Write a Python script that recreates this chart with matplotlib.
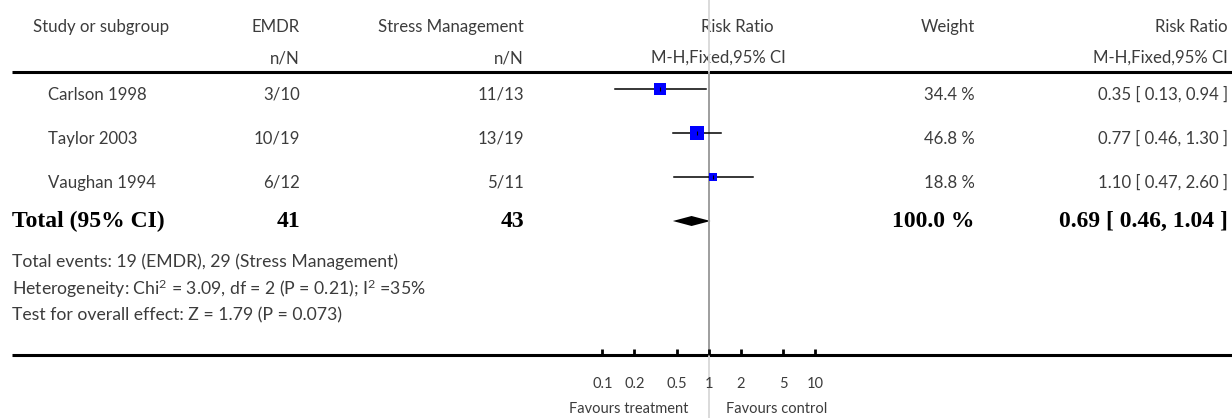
import numpy as np
import matplotlib.pyplot as plt

# Study rows
studies = ['Carlson 1998', 'Taylor 2003', 'Vaughan 1994']
emdr_nN = ['3/10', '10/19', '6/12']
stress_nN = ['11/13', '13/19', '5/11']
rr = [0.35, 0.77, 1.10]
ci_low = [0.13, 0.46, 0.47]
ci_high = [0.94, 1.30, 2.60]
weights = [34.4, 46.8, 18.8]

# Pooled result
total_emdr = 41
total_stress = 43
total_rr = 0.69
total_low = 0.46
total_high = 1.04

ticks = [0.1, 0.2, 0.5, 1, 2, 5, 10]
tick_labels = ['0.1', '0.2', '0.5', '1', '2', '5', '10']

footer = ['Total events: 19 (EMDR), 29 (Stress Management)',
          'Heterogeneity: Chi$^{2}$ = 3.09, df = 2 (P = 0.21); I$^{2}$ =35%',
          'Test for overall effect: Z = 1.79 (P = 0.073)']

plt.rcParams['font.family'] = ['Lato', 'DejaVu Sans']
plt.rcParams['mathtext.fontset'] = 'custom'
plt.rcParams['mathtext.rm'] = 'Lato'
plt.rcParams['mathtext.default'] = 'regular'
grey = '#3c3c3c'
fs = 12.1
bold = dict(family='Liberation Serif', fontweight='bold', fontsize=17, color='black')

W, H = 1232, 418
fig = plt.figure(figsize=(W / 100, H / 100), dpi=100)

# text layer in pixel units
tx = fig.add_axes([0, 0, 1, 1])
tx.set_xlim(0, W)
tx.set_ylim(H, 0)
tx.axis('off')

# forest layer, log scale for risk ratio
ax = fig.add_axes([0, 0, 1, 1])
x_one, decade = 708.7, 106.3
ax.set_xscale('log')
ax.set_xlim(10 ** (-x_one / decade), 10 ** ((W - x_one) / decade))
ax.set_ylim(H, 0)
ax.axis('off')
ax.patch.set_alpha(0)

row_y = 89 + 44 * np.arange(len(studies))
total_y = 221

# headers
tx.text(33, 32, 'Study or subgroup', fontsize=fs, color=grey, va='baseline')
tx.text(300, 32, 'EMDR', fontsize=fs, color=grey, ha='right', va='baseline')
tx.text(300, 63, 'n/N', fontsize=fs, color=grey, ha='right', va='baseline')
tx.text(524, 32, 'Stress Management', fontsize=fs, color=grey, ha='right', va='baseline')
tx.text(524, 63, 'n/N', fontsize=fs, color=grey, ha='right', va='baseline')
tx.text(737, 32, 'Risk Ratio', fontsize=fs, color=grey, ha='center', va='baseline')
tx.text(718, 63, 'M-H,Fixed,95% CI', fontsize=fs, color=grey, ha='center', va='baseline')
tx.text(975, 32, 'Weight', fontsize=fs, color=grey, ha='right', va='baseline')
tx.text(1228, 32, 'Risk Ratio', fontsize=fs, color=grey, ha='right', va='baseline')
tx.text(1228, 63, 'M-H,Fixed,95% CI', fontsize=fs, color=grey, ha='right', va='baseline')

# rules
tx.hlines([72, 355], 12, W, color='black', lw=2.2)

# null line
ax.axvline(1, color='#d8d8d8', lw=1.3)
ax.vlines(1, 72, 355, color='#9a9a9a', lw=1.3)

# study rows
for i, y in enumerate(row_y):
    tb = y + 11
    tx.text(48, tb, studies[i], fontsize=fs, color=grey, va='baseline')
    tx.text(300, tb, emdr_nN[i], fontsize=fs, color=grey, ha='right', va='baseline')
    tx.text(524, tb, stress_nN[i], fontsize=fs, color=grey, ha='right', va='baseline')
    tx.text(975, tb, f'{weights[i]:.1f} %', fontsize=fs, color=grey, ha='right', va='baseline')
    tx.text(1228, tb, f'{rr[i]:.2f} [ {ci_low[i]:.2f}, {ci_high[i]:.2f} ]',
            fontsize=fs, color=grey, ha='right', va='baseline')
    ax.plot([ci_low[i], ci_high[i]], [y, y], color='black', lw=1.1)
    size_px = 4 + 0.23 * weights[i]
    ax.plot(rr[i], y, marker='s', ms=size_px * 0.72, color='#0000ff', mew=0)
    ax.plot(rr[i], y, marker='|', ms=3, color='black', mew=0.8)

# total row
tb = total_y + 6
tx.text(12, tb, 'Total (95% CI)', va='baseline', **bold)
tx.text(300, tb, str(total_emdr), ha='right', va='baseline', **bold)
tx.text(524, tb, str(total_stress), ha='right', va='baseline', **bold)
tx.text(975, tb, '100.0 %', ha='right', va='baseline', **bold)
tx.text(1228, tb, f'{total_rr:.2f} [ {total_low:.2f}, {total_high:.2f} ]',
        ha='right', va='baseline', **bold)
ax.fill([total_low, total_rr, total_high, total_rr],
        [total_y, total_y - 5, total_y, total_y + 5], color='black', lw=0)

# footer notes
for line, yb in zip(footer, [267, 295, 320]):
    tx.text(12, yb, line, fontsize=12.7, color=grey, va='baseline')

# axis ticks and labels
ax.vlines(ticks, 349, 355, color='black', lw=2)
for t, lab in zip(ticks, tick_labels):
    ax.text(t, 388, lab, fontsize=10.5, color=grey, ha='center', va='baseline')
tx.text(688, 413, 'Favours treatment', fontsize=10.5, color=grey, ha='right', va='baseline')
tx.text(726, 413, 'Favours control', fontsize=10.5, color=grey, ha='left', va='baseline')

fig.savefig('out.png', dpi=100)
